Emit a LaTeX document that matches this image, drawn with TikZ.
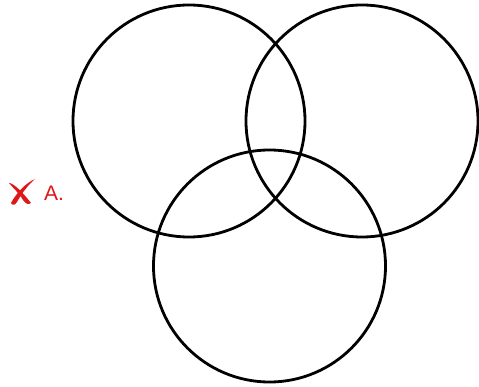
\documentclass[tikz,border=0pt]{standalone}
\usepackage{fontspec}
\setmainfont{Liberation Sans}
\definecolor{markred}{RGB}{222,24,24}
\begin{document}
\begin{tikzpicture}[x=1pt,y=-1pt,
  ring/.style={draw=black,line width=2.8pt},
  xstroke/.style={draw=markred,line cap=round,line join=round}]
\useasboundingbox (0,0) rectangle (479,387);
\node[ring,circle,minimum size=232pt,inner sep=0pt] (left) at (189,121) {};
\node[ring,circle,minimum size=232pt,inner sep=0pt] (right) at (362,121) {};
\node[ring,circle,minimum size=232pt,inner sep=0pt] (bottom) at (269.5,266) {};
% red cross mark
\fill[markred] (9,183) .. controls (14,183) and (24,194) .. (31,203)
  .. controls (28,205) and (26,204) .. (23,200)
  .. controls (19,193) and (13,188) .. (9,183) -- cycle;
\fill[markred] (35,179) .. controls (26,183) and (17,192) .. (11,203)
  .. controls (13,206) and (15,205) .. (17,202)
  .. controls (22,193) and (28,185) .. (35,179) -- cycle;
\node[anchor=west,text=markred,font=\fontsize{21}{24}\selectfont,inner sep=0pt] (label) at (44,193) {A.};
\end{tikzpicture}
\end{document}
